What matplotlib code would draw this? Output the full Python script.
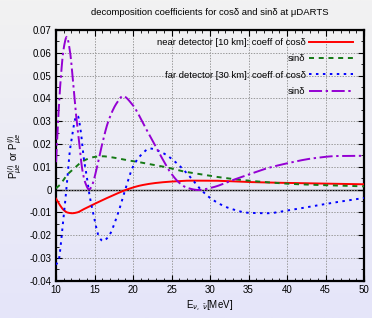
import numpy as np
import matplotlib
matplotlib.use("Agg")
import matplotlib.pyplot as plt
from matplotlib.ticker import MultipleLocator

plt.rcParams['font.family'] = ['Liberation Sans', 'DejaVu Sans']
plt.rcParams['lines.scale_dashes'] = False

# near detector, coefficient of cos(delta)
near_cos_x = [10.0, 10.5, 11.0, 11.5, 12.1, 12.8, 13.5, 14.7, 16.0, 17.5, 19.2, 21.0, 23.0, 25.0, 27.5, 30.0, 35.0, 40.0, 45.0, 50.0]
near_cos_y = [-0.0040, -0.0068, -0.0090, -0.0101, -0.0104, -0.0100, -0.0088, -0.0068, -0.0047, -0.0024, 0.0000, 0.0018, 0.0029, 0.0035, 0.0039, 0.0039, 0.0033, 0.0029, 0.0026, 0.0023]

# near detector, sin(delta)
near_sin_x = [10.0, 10.5, 11.4, 12.1, 13.1, 13.8, 15.0, 16.0, 17.5, 19.0, 20.5, 22.0, 24.0, 26.5, 29.0, 31.0, 35.0, 41.0, 45.0, 50.0]
near_sin_y = [0.0005, 0.0020, 0.0063, 0.0085, 0.0115, 0.0130, 0.0143, 0.0146, 0.0140, 0.0130, 0.0122, 0.0112, 0.0100, 0.0080, 0.0066, 0.0055, 0.0039, 0.0024, 0.0019, 0.0014]

# far detector, coefficient of cos(delta)
far_cos_x = [10.0, 10.35, 10.8, 11.2, 11.4, 11.8, 12.1, 12.4, 12.8, 13.2, 13.6, 14.0, 14.3, 14.6, 15.0, 15.5, 16.1, 16.8, 17.9, 19.0, 20.0, 21.0, 22.2, 23.9, 25.7, 27.4, 28.8, 30.4, 32.6, 35.0, 37.5, 40.0, 43.4, 45.6, 50.0]
far_cos_y = [-0.0330, -0.0310, -0.0180, -0.0050, 0.0020, 0.0170, 0.0235, 0.0300, 0.0325, 0.0260, 0.0140, 0.0056, -0.0015, -0.0068, -0.0130, -0.0200, -0.0226, -0.0207, -0.0120, 0.0000, 0.0100, 0.0150, 0.0180, 0.0160, 0.0115, 0.0056, 0.0000, -0.0046, -0.0083, -0.0102, -0.0104, -0.0092, -0.0073, -0.0060, -0.0037]

# far detector, sin(delta)
far_sin_x = [10.0, 10.3, 10.6, 11.0, 11.4, 11.8, 12.2, 12.6, 13.0, 13.4, 13.8, 14.3, 14.7, 15.2, 15.6, 16.0, 16.8, 17.9, 18.7, 19.8, 21.8, 23.9, 24.8, 26.1, 27.0, 28.5, 30.4, 33.0, 35.2, 37.4, 40.0, 43.4, 46.5, 50.0]
far_sin_y = [0.0120, 0.0320, 0.0480, 0.0620, 0.0670, 0.0610, 0.0480, 0.0330, 0.0210, 0.0090, 0.0030, 0.0000, 0.0020, 0.0080, 0.0140, 0.0200, 0.0300, 0.0380, 0.0410, 0.0378, 0.0260, 0.0130, 0.0078, 0.0027, 0.0008, -0.0002, 0.0010, 0.0042, 0.0068, 0.0093, 0.0115, 0.0137, 0.0147, 0.0148]

labels = ["near detector [10 km]: coeff of cos\u03b4", "sin\u03b4",
          "far detector [30 km]: coeff of cos\u03b4", "sin\u03b4"]

y_ticks = [-0.04, -0.03, -0.02, -0.01, 0.0, 0.01, 0.02, 0.03, 0.04, 0.05, 0.06, 0.07]
y_tick_labels = ["-0.04", "-0.03", "-0.02", "-0.01", "0", "0.01", "0.02", "0.03", "0.04", "0.05", "0.06", "0.07"]


def smooth(xs, ys, n=600):
    xs = np.asarray(xs); ys = np.asarray(ys)
    h = np.diff(xs); d = np.diff(ys) / h
    m = np.zeros_like(ys)
    for k in range(1, len(xs) - 1):
        if d[k - 1] * d[k] > 0:
            w1 = 2 * h[k] + h[k - 1]; w2 = h[k] + 2 * h[k - 1]
            m[k] = (w1 + w2) / (w1 / d[k - 1] + w2 / d[k])
    m[0] = d[0]; m[-1] = d[-1]
    xx = np.linspace(xs[0], xs[-1], n)
    idx = np.clip(np.searchsorted(xs, xx) - 1, 0, len(xs) - 2)
    t = (xx - xs[idx]) / h[idx]
    h00 = 2 * t**3 - 3 * t**2 + 1; h10 = t**3 - 2 * t**2 + t
    h01 = -2 * t**3 + 3 * t**2; h11 = t**3 - t**2
    yy = h00 * ys[idx] + h10 * h[idx] * m[idx] + h01 * ys[idx + 1] + h11 * h[idx] * m[idx + 1]
    return xx, yy


fig = plt.figure(figsize=(3.72, 3.18), dpi=100)

# background gradient
bg = fig.add_axes([0, 0, 1, 1], zorder=-10)
grad = np.linspace(0, 1, 256)[:, None]
top = np.array([242, 242, 242]) / 255.0
bot = np.array([229, 229, 250]) / 255.0
img = top[None, None, :] * (1 - grad[:, :, None]) + bot[None, None, :] * grad[:, :, None]
bg.imshow(img, aspect='auto', extent=[0, 1, 0, 1])
bg.axis('off')

ax = fig.add_axes([56 / 372, 1 - 280.7 / 318, (364 - 56) / 372, (280.7 - 30) / 318])
ax.set_facecolor('none')

ax.axhline(0, color='black', lw=1.0, zorder=1)

x, y = smooth(near_cos_x, near_cos_y)
ax.plot(x, y, color='#ff0000', lw=1.4, label=labels[0], zorder=3)
x, y = smooth(near_sin_x, near_sin_y)
ax.plot(x, y, color='#157a15', lw=1.4, dashes=(3.6, 3.4), label=labels[1], zorder=3)
x, y = smooth(far_cos_x, far_cos_y)
ax.plot(x, y, color='#0000ff', lw=1.4, dashes=(1.8, 3.2), label=labels[2], zorder=3)
x, y = smooth(far_sin_x, far_sin_y)
ax.plot(x, y, color='#9400d3', lw=1.4, dashes=(9.4, 2.6, 1.7, 2.6), label=labels[3], zorder=3)

ax.set_xlim(10, 50)
ax.set_ylim(-0.04, 0.07)
ax.xaxis.set_major_locator(MultipleLocator(5))
ax.xaxis.set_minor_locator(MultipleLocator(1))
ax.set_yticks(y_ticks)
ax.set_yticklabels(y_tick_labels)
ax.yaxis.set_minor_locator(MultipleLocator(0.005))
ax.tick_params(which='both', direction='in', top=True, right=True, labelsize=7.0, pad=3)
ax.tick_params(which='major', length=4, width=0.8)
ax.tick_params(which='minor', length=2, width=0.6)
ax.grid(True, which='major', color='#999999', linestyle=(0, (1, 1)), lw=0.7)
for s in ax.spines.values():
    s.set_linewidth(1.6)

ax.set_title("decomposition coefficients for cos\u03b4 and sin\u03b4 at \u03bcDARTS", fontsize=6.8, pad=11)
ax.set_xlabel(r"E$_{\nu,\ \bar{\nu}}$[MeV]", fontsize=7.0, labelpad=3)
ax.set_ylabel(r"P$_{\mu e}^{(I)}$ or P$_{\mu e}^{(I)}$", fontsize=7.0, labelpad=4)

leg = ax.legend(loc='upper right', markerfirst=False, frameon=False, fontsize=6.8,
                handlelength=4.6, handletextpad=0.4, labelspacing=0.78,
                borderaxespad=0.3, bbox_to_anchor=(0.985, 0.995))

fig.savefig("out.png", dpi=100)
